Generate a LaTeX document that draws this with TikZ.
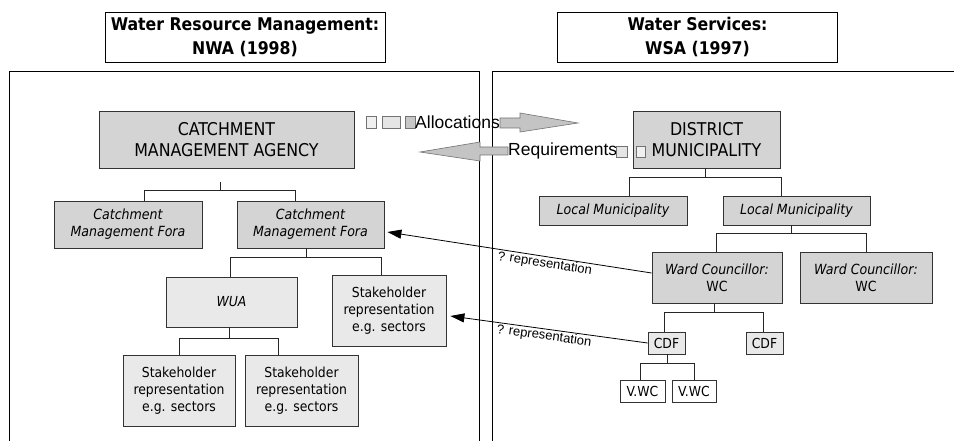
\documentclass[tikz,border=0pt]{standalone}
\usepackage{fontspec}
\setmainfont{DejaVu Sans Condensed}
\newfontfamily\arialfont{Liberation Sans}
\usetikzlibrary{positioning,arrows.meta}
\definecolor{boxgray}{HTML}{D4D4D4}
\definecolor{boxlight}{HTML}{E9E9E9}
\definecolor{arrowgray}{HTML}{C4C4C4}

\begin{document}
\begin{tikzpicture}[x=1pt, y=-1pt,
    titlebox/.style={draw, line width=0.9pt, fill=white, align=center, inner sep=0pt,
      minimum width=280pt, minimum height=50pt, font=\bfseries\fontsize{17.5}{24}\selectfont},
    agencybox/.style={draw=black!80, line width=0.8pt, fill=boxgray, align=center, inner sep=0pt,
      font=\fontsize{17.6}{21}\selectfont},
    forumbox/.style={draw=black!80, line width=0.8pt, fill=boxgray, align=center, inner sep=0pt,
      font=\itshape\fontsize{14}{17}\selectfont},
    sectorbox/.style={draw=black!80, line width=0.8pt, fill=boxlight, align=center, inner sep=0pt,
      font=\fontsize{13.8}{16.7}\selectfont},
    villagebox/.style={draw=black!80, line width=0.8pt, fill=white, align=center, inner sep=0pt,
      minimum height=22pt, font=\fontsize{13.8}{14}\selectfont},
    link/.style={draw=black!85, line width=0.8pt},
    reparrow/.style={draw=black, line width=0.8pt, -{Triangle[length=14pt,width=9pt]}},
    replabel/.style={font=\arialfont\fontsize{13}{13}\selectfont, inner sep=1pt},
    blockarrow/.style={draw=black!55, line width=0.6pt, fill=arrowgray},
    flowtext/.style={font=\arialfont\fontsize{17.5}{17.5}\selectfont, inner sep=0pt},
  ]
  \useasboundingbox (0,0) rectangle (954,441);

  % the two sides
  \draw[line width=0.9pt] (9,441) |- (479,71) -- (479,441);
  \draw[line width=0.9pt] (492,441) |- (954,71);

  \node[titlebox] (NWA) at (245,37)   {Water Resource Management:\\NWA (1998)};
  \node[titlebox] (WSA) at (697.5,37) {Water Services:\\WSA (1997)};

  % water resource management side
  \node[agencybox, minimum width=255pt, minimum height=57pt] (CMA)  at (226.5,139.5) {CATCHMENT\\MANAGEMENT AGENCY};
  \node[forumbox, minimum width=148pt, minimum height=47pt]  (CMF1) at (128,224.5)   {Catchment\\Management Fora};
  \node[forumbox, minimum width=147pt, minimum height=47pt]  (CMF2) at (310.5,224.5) {Catchment\\Management Fora};
  \node[sectorbox, font=\itshape\fontsize{13.8}{16.7}\selectfont, minimum width=131pt, minimum height=50pt] (WUA) at (231.5,302) {WUA};
  \node[sectorbox, minimum width=114pt, minimum height=71pt] (SH0) at (389,310.5)   {Stakeholder\\representation\\e.g. sectors};
  \node[sectorbox, minimum width=112pt, minimum height=71pt] (SH1) at (179,390.5)   {Stakeholder\\representation\\e.g. sectors};
  \node[sectorbox, minimum width=113pt, minimum height=71pt] (SH2) at (301.5,390.5) {Stakeholder\\representation\\e.g. sectors};

  \draw[link] ([xshift=-6.5pt,yshift=-14pt]CMA.south) -- ++(0,9);
  \draw[link] ([xshift=16pt]CMF1.north) -- ++(0,-10) -| ([xshift=-15.5pt]CMF2.north);
  \draw[link] ([xshift=-4.5pt]CMF2.south) -- ++(0,10);
  \draw[link] ([xshift=-1.5pt]WUA.north) -- ++(0,-19) -| ([xshift=-8pt]SH0.north);
  \draw[link] ([xshift=-2.5pt]WUA.south) -- ++(0,12);
  \draw[link] (SH1.north) -- ++(0,-16) -| ([xshift=-23.5pt]SH2.north);

  % water services side
  \node[agencybox, minimum width=147pt, minimum height=57pt] (DM)  at (706.5,139.5) {DISTRICT\\MUNICIPALITY};
  \node[forumbox, minimum width=148pt, minimum height=29pt]  (LM1) at (613,210.5)   {Local Municipality};
  \node[forumbox, minimum width=147pt, minimum height=29pt]  (LM2) at (796.5,210.5) {Local Municipality};
  \node[forumbox, minimum width=130pt, minimum height=51pt]  (WC1) at (717,277.5)   {Ward Councillor:\\\upshape WC};
  \node[forumbox, minimum width=132pt, minimum height=51pt]  (WC2) at (866,277.5)   {Ward Councillor:\\\upshape WC};
  \node[villagebox, fill=boxlight, minimum width=37pt] (CDF1) at (666.5,343) {CDF};
  \node[villagebox, fill=boxlight, minimum width=37pt] (CDF2) at (764.5,343) {CDF};
  \node[villagebox, minimum width=45pt] (VWC1) at (642.5,391) {V.WC};
  \node[villagebox, minimum width=44pt] (VWC2) at (694,391)   {V.WC};

  \draw[link] ([xshift=-1.5pt]DM.south) -- ++(0,10);
  \draw[link] ([xshift=16pt]LM1.north) -- ++(0,-18) -| ([xshift=-15.5pt]LM2.north);
  \draw[link] ([xshift=-5.5pt]LM2.south) -- ++(0,9);
  \draw[link] ([xshift=-1pt]WC1.north) -- ++(0,-18) -| (WC2.north);
  \draw[link] ([xshift=-3pt]WC1.south) -- ++(0,10);
  \draw[link] ([xshift=-2.5pt]CDF1.north) -- ++(0,-19) -| ([xshift=-1.5pt]CDF2.north);
  \draw[link] ([xshift=0.5pt]CDF1.south) -- ++(0,10);
  \draw[link] ([xshift=-2.5pt]VWC1.north) -- ++(0,-16) -| (VWC2.north);

  % allocations and requirements
  \draw[blockarrow, fill=black!6]  (366,116) rectangle (376,128);
  \draw[blockarrow, fill=black!10] (382,116) rectangle (400,128);
  \draw[blockarrow, fill=black!22] (405,116) rectangle (415,128);
  \node[flowtext, anchor=west] (alloc) at (415,122) {Allocations};
  \draw[blockarrow] ([yshift=4pt]alloc.east) -- (520,118) -- (520,113) -- (578,123)
    -- (520,132) -- (520,128) -- ([yshift=-6pt]alloc.east) -- cycle;

  \node[flowtext, anchor=west] (req) at (508,151) {Requirements};
  \draw[blockarrow] ([yshift=4pt]req.west) -- (480,147) -- (480,142) -- (420,152)
    -- (480,161) -- (480,155) -- ([yshift=-4pt]req.west) -- cycle;
  \draw[blockarrow, fill=black!10] (616,146) rectangle (627,157);
  \draw[blockarrow, fill=black!6]  (636,146) rectangle (645,157);

  % representation links
  \draw[reparrow] ([yshift=4.5pt]WC1.west) -- node[replabel, pos=0.4, rotate=-8.8, anchor=north] {? representation}
    ([xshift=3pt,yshift=-7.5pt]CMF2.east);
  \draw[reparrow] (CDF1.west) -- node[replabel, pos=0.52, rotate=-7.8, anchor=north] {? representation}
    ([xshift=4pt,yshift=-5.5pt]SH0.east);
\end{tikzpicture}
\end{document}
